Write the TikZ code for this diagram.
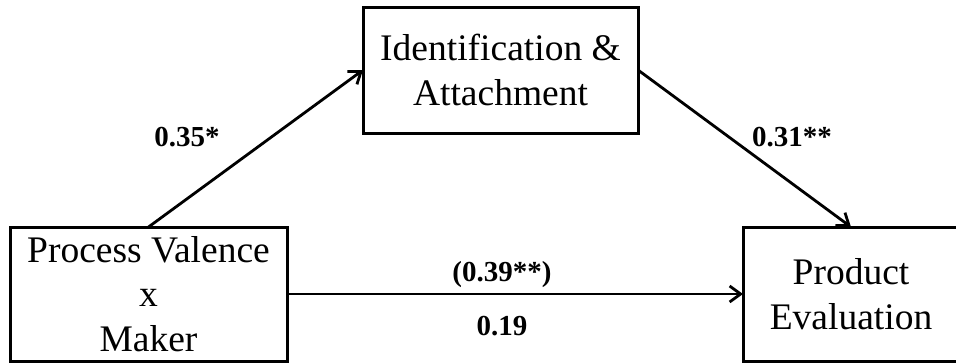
\documentclass[tikz,border=0pt]{standalone}
\usepackage{fontspec}
\setmainfont{Liberation Serif}
\usetikzlibrary{arrows.meta}
\begin{document}
\begin{tikzpicture}[x=1pt,y=-1pt,
  boxnode/.style={draw,line width=3pt,inner sep=0pt,outer sep=0pt,align=center,
    font=\fontsize{37.5}{44.5}\selectfont},
  conn/.style={line width=2.8pt,-{Straight Barb[length=11pt,width=16pt,line width=2.8pt]}},
  coef/.style={font=\fontsize{29}{34}\selectfont\bfseries,inner sep=0pt}]
\useasboundingbox (0,0) rectangle (956,362);
\begin{scope}
\clip (0,0) rectangle (956,362);
\node[boxnode,minimum width=275pt,minimum height=126pt] (T) at (500.5,70) {Identification \&\\Attachment};
\node[boxnode,minimum width=277pt,minimum height=134pt] (L) at (148.5,294) {Process Valence\\x\\Maker};
\node[boxnode,minimum width=216pt,minimum height=134pt] (R) at (851,294) {Product\\Evaluation};
\draw[conn] (L.north) -- (T.west);
\draw[conn] (T.east) -- (R.north);
\draw[conn] (L.east) -- (R.west);
\end{scope}
\node[coef] (c1) at (187,137) {0.35*};
\node[coef] (c2) at (792,137) {0.31**};
\node[coef] (c3) at (502,275) {(0.39**)};
\node[coef] (c4) at (502,326) {0.19};
\end{tikzpicture}
\end{document}
